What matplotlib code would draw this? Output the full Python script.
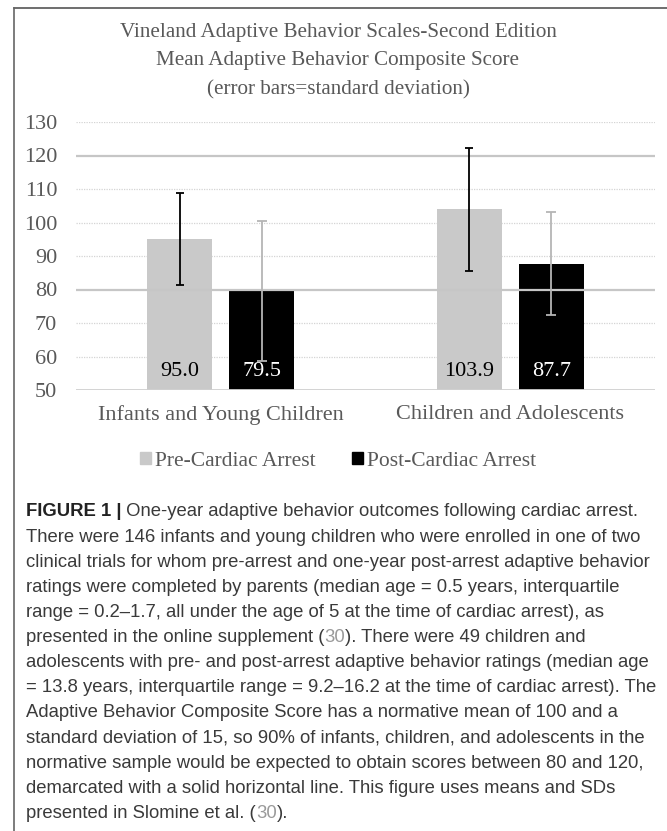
import numpy as np
import matplotlib
matplotlib.use("Agg")
import matplotlib.pyplot as plt
from matplotlib.patches import Patch

# data
groups = ["Infants and Young Children", "Children and Adolescents"]
series = ["Pre-Cardiac Arrest", "Post-Cardiac Arrest"]
pre_mean = [95.0, 103.9]
post_mean = [79.5, 87.7]
pre_sd = [13.7, 18.3]
post_sd = [20.8, 15.4]
y_ticks = [50, 60, 70, 80, 90, 100, 110, 120, 130]
norm_band = [80, 120]

title_lines = ["Vineland Adaptive Behavior Scales-Second Edition",
               "Mean Adaptive Behavior Composite Score",
               "(error bars=standard deviation)"]

caption = [
    [("FIGURE 1 |", "bold", "#222222"), (" One-year adaptive behavior outcomes following cardiac arrest.", "normal", "#3a3a3a")],
    [("There were 146 infants and young children who were enrolled in one of two", "normal", "#3a3a3a")],
    [("clinical trials for whom pre-arrest and one-year post-arrest adaptive behavior", "normal", "#3a3a3a")],
    [("ratings were completed by parents (median age = 0.5 years, interquartile", "normal", "#3a3a3a")],
    [("range = 0.2\u20131.7, all under the age of 5 at the time of cardiac arrest), as", "normal", "#3a3a3a")],
    [("presented in the online supplement (", "normal", "#3a3a3a"), ("30", "normal", "#9a9a9a"),
     ("). There were 49 children and", "normal", "#3a3a3a")],
    [("adolescents with pre- and post-arrest adaptive behavior ratings (median age", "normal", "#3a3a3a")],
    [("= 13.8 years, interquartile range = 9.2\u201316.2 at the time of cardiac arrest). The", "normal", "#3a3a3a")],
    [("Adaptive Behavior Composite Score has a normative mean of 100 and a", "normal", "#3a3a3a")],
    [("standard deviation of 15, so 90% of infants, children, and adolescents in the", "normal", "#3a3a3a")],
    [("normative sample would be expected to obtain scores between 80 and 120,", "normal", "#3a3a3a")],
    [("demarcated with a solid horizontal line. This figure uses means and SDs", "normal", "#3a3a3a")],
    [("presented in Slomine et al. (", "normal", "#3a3a3a"), ("30", "normal", "#9a9a9a"), (").", "normal", "#3a3a3a")],
]

W, H = 667, 831
fig = plt.figure(figsize=(W / 100, H / 100), dpi=100)
fig.patch.set_facecolor("white")

def fx(px):
    return px / W

def fy(py):
    return 1 - py / H

serif = "Liberation Serif"
sans = "Liberation Sans"
grey_txt = "#595959"
pre_col = "#c9c9c9"
post_col = "#000000"

# outer frame of the figure panel (top and left only)
fig.add_artist(plt.Line2D([fx(14), 1], [fy(8), fy(8)], color="#555555", lw=1.2))
fig.add_artist(plt.Line2D([fx(14), fx(14)], [fy(8), 0], color="#666666", lw=1.2))

# chart title
for i, line in enumerate(title_lines):
    fig.text(fx(338), fy(32 + 29 * i), line, ha="center", va="center",
             fontsize=15.2, family=serif, color=grey_txt)

ax = fig.add_axes([fx(76), fy(390), fx(655) - fx(76), fy(122) - fy(390)])
x = np.arange(len(groups))
bw = 0.2245
off = 0.1416

ax.bar(x - off, pre_mean, bw, color=pre_col, zorder=2)
ax.bar(x + off, post_mean, bw, color=post_col, zorder=2)
ax.errorbar(x - off, pre_mean, yerr=pre_sd, fmt="none", ecolor="black",
            elinewidth=1.3, capsize=3.2, capthick=1.3, zorder=5)
ax.errorbar(x + off, post_mean, yerr=post_sd, fmt="none", ecolor="#b5b5b5",
            elinewidth=1.3, capsize=3.6, capthick=1.3, zorder=5)

for xi, v in zip(x - off, pre_mean):
    ax.text(xi, 55.5, f"{v:.1f}", ha="center", va="center", fontsize=16,
            family=serif, color="black", zorder=6)
for xi, v in zip(x + off, post_mean):
    ax.text(xi, 55.5, f"{v:.1f}", ha="center", va="center", fontsize=16,
            family=serif, color="white", zorder=6)

# gridlines: dotted, with solid lines marking the normative range
for t in y_ticks:
    if t in norm_band:
        ax.axhline(t, color="#c6c6c6", lw=1.6, zorder=3)
    elif t == y_ticks[0]:
        ax.axhline(t, color="#d0d0d0", lw=1.3, zorder=3)
    else:
        ax.axhline(t, color="#d4d4d4", lw=0.9, ls=(0, (1, 1)), zorder=0.5)

ax.set_xlim(-0.5, len(groups) - 0.5)
ax.set_ylim(y_ticks[0], y_ticks[-1])
ax.set_yticks(y_ticks)
ax.set_yticklabels([str(t) for t in y_ticks], fontsize=16, family=serif, color=grey_txt)
ax.set_xticks(x)
ax.set_xticklabels(groups, fontsize=16, family=serif, color=grey_txt)
ax.tick_params(axis="y", length=0, pad=13.5)
ax.tick_params(axis="x", length=0, pad=11)
for s in ax.spines.values():
    s.set_visible(False)

handles = [Patch(color=pre_col), Patch(color=post_col)]
leg = fig.legend(handles, series, loc="center", bbox_to_anchor=(fx(338), fy(461)),
                 ncol=2, frameon=False, handlelength=0.5, handleheight=0.5,
                 handletextpad=0.2, columnspacing=1.7,
                 prop={"family": serif, "size": 15.5})
for t in leg.get_texts():
    t.set_color(grey_txt)

# caption, drawn segment by segment
renderer = fig.canvas.get_renderer()
for i, segs in enumerate(caption):
    xpos = 26
    ypos = 512 + 25.1 * i
    for txt, weight, col in segs:
        t = fig.text(fx(xpos), fy(ypos), txt, ha="left", va="center", fontsize=13.3,
                     family=sans, fontweight=weight, color=col)
        bb = t.get_window_extent(renderer)
        xpos = bb.x1

fig.savefig("out.png", dpi=100)
